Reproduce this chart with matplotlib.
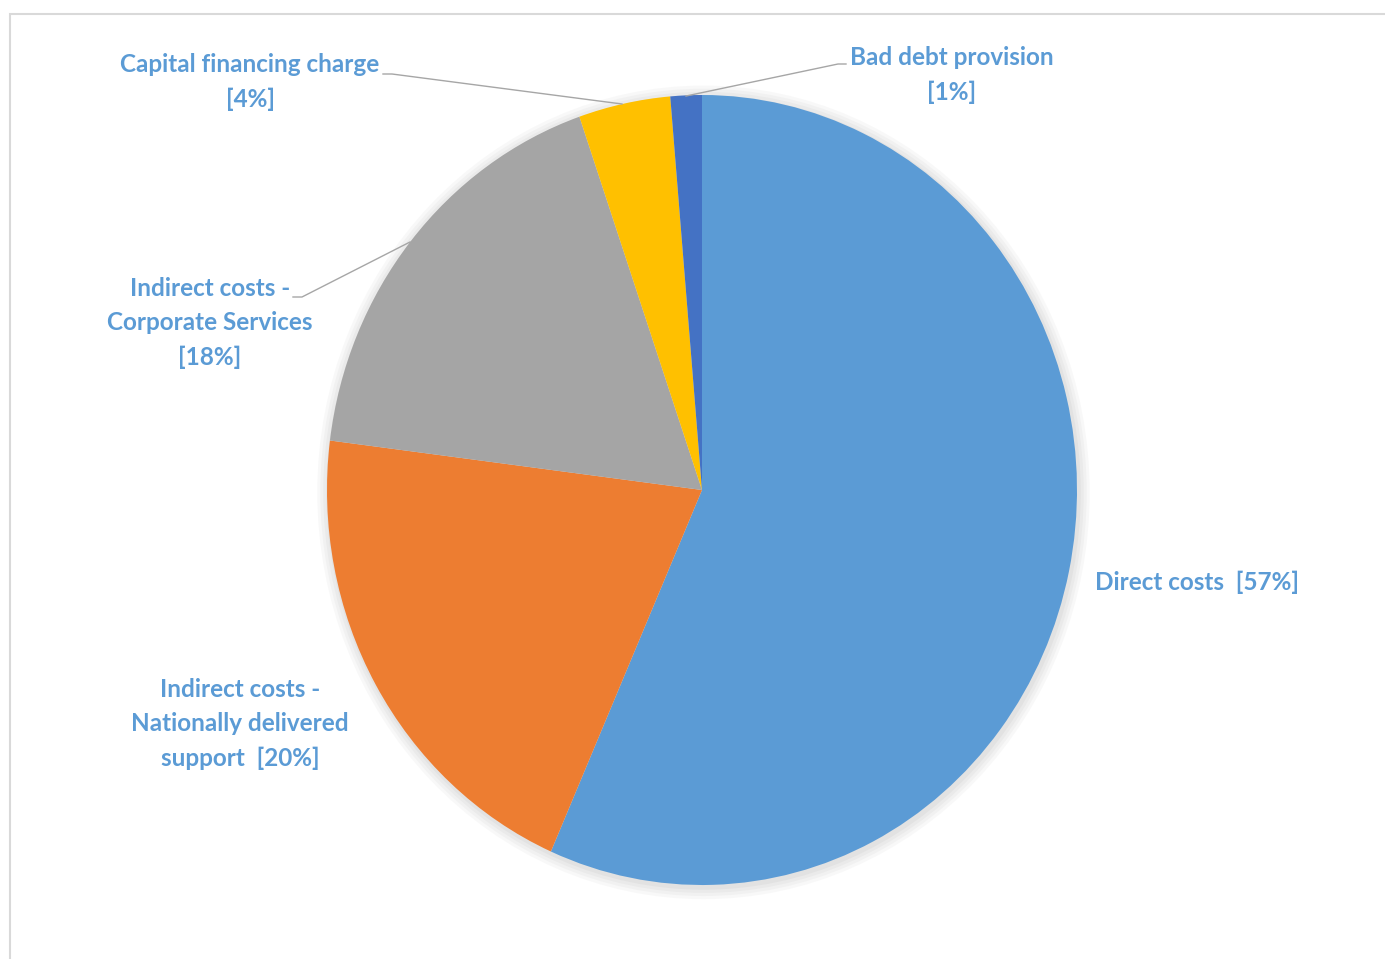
import numpy as np
import matplotlib.pyplot as plt
from matplotlib.patches import Ellipse, Rectangle

# Kostenanteile (im Uhrzeigersinn ab 12 Uhr), aus dem Bild geschätzt
categories = ["Direct costs", "Indirect costs - Nationally delivered support",
              "Indirect costs - Corporate Services", "Capital financing charge",
              "Bad debt provision"]
shares = [56.6, 20.4, 17.7, 3.95, 1.35]
pct_labels = ["57%", "20%", "18%", "4%", "1%"]
colors = ["#5B9BD5", "#ED7D31", "#A5A5A5", "#FFC000", "#4472C4"]

W, H = 1385, 959
CX, CY, RX, RY = 702, 490, 375, 395

def px(x, y):
    # Pixelkoordinaten -> Datenkoordinaten (Einheitskreis = Torte)
    return (x - CX) / RX, (CY - y) / RY

plt.rcParams['font.family'] = ['Lato', 'DejaVu Sans']
fig = plt.figure(figsize=(W / 100, H / 100), dpi=100)
ax = fig.add_axes([0, 0, 1, 1])

# weicher Schatten
for i, a in enumerate([0.05, 0.05, 0.06, 0.07]):
    s = 1.03 - i * 0.008
    ax.add_patch(Ellipse((0.004, -0.006), 2 * s, 2 * s, color="#808080", alpha=a, lw=0, zorder=0))

ax.pie(shares, colors=colors, startangle=90, counterclock=False,
       wedgeprops=dict(linewidth=0), radius=1)
ax.set_aspect('auto')
x0, y0 = px(0, H)
x1, y1 = px(W, 0)
ax.set_xlim(x0, x1)
ax.set_ylim(y0, y1)
ax.axis('off')

# Rahmen
fig.add_artist(Rectangle((10 / W, -0.01), 1.2, (H - 14) / H + 0.01, transform=fig.transFigure,
                         fill=False, edgecolor="#D9D9D9", linewidth=1.5))

tc = "#5B9BD5"
kw = dict(color=tc, fontsize=17.5, fontweight='bold', ha='center', va='center', linespacing=1.58)

ax.text(*px(1197, 582), "Direct costs  [%s]" % pct_labels[0], **kw)
ax.text(*px(240, 724), "Indirect costs -\nNationally delivered\nsupport  [%s]" % pct_labels[1], **kw)
ax.text(*px(210, 323), "Indirect costs -\nCorporate Services\n[%s]" % pct_labels[2], **kw)
ax.text(*px(250, 82), "Capital financing charge\n[%s]" % pct_labels[3], **kw)
ax.text(*px(952, 75), "Bad debt provision\n[%s]" % pct_labels[4], **kw)

# Führungslinien
lc = "#A6A6A6"
for pts in [[(383, 74), (392, 74), (622, 104)],
            [(846, 64), (838, 64), (686, 96)],
            [(293, 297), (302, 297), (410, 242)]]:
    xy = np.array([px(*p) for p in pts])
    ax.plot(xy[:, 0], xy[:, 1], color=lc, linewidth=1)

fig.savefig("out.png", dpi=100)
